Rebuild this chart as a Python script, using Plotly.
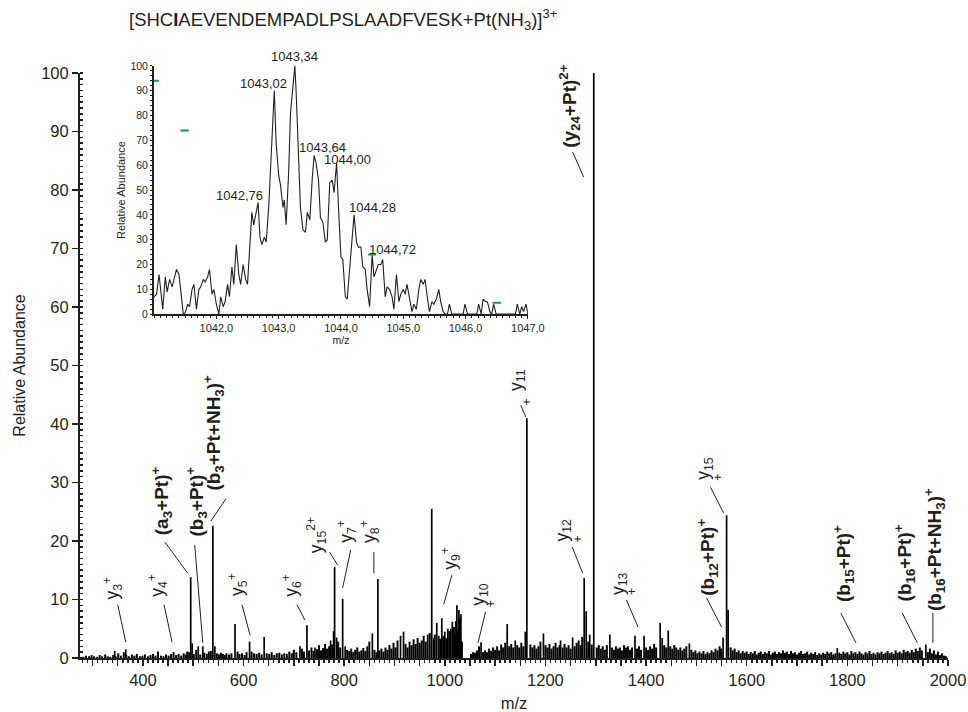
import plotly.graph_objects as go

# ---------------- data ----------------
peak_mz = [344, 366, 495, 498, 510, 519, 539, 543, 583, 612,
           641, 712, 726, 742, 773, 779, 781, 785, 797, 802,
           856, 867, 912, 918, 966, 974, 984, 988, 994, 1000,
           1006, 1012, 1015, 1024, 1028, 1032, 1072, 1124, 1140, 1160,
           1163, 1196, 1230, 1254, 1277, 1281, 1288, 1296, 1328, 1378,
           1396, 1428, 1432, 1444, 1486, 1553, 1560, 1563, 1780, 1956]
peak_int = [1.2, 1.5, 13.8, 2.5, 2.0, 2.0, 22.6, 2.0, 5.8, 2.8,
            3.6, 2.0, 5.6, 1.8, 3.0, 4.6, 15.6, 3.5, 10.1, 2.0,
            4.2, 13.5, 3.8, 4.5, 4.0, 25.5, 6.0, 3.8, 6.8, 4.5,
            5.0, 5.0, 6.2, 9.0, 8.2, 7.5, 2.7, 5.8, 3.0, 4.5,
            41.0, 4.2, 3.0, 3.5, 13.7, 8.0, 4.0, 100, 4.0, 3.8,
            3.8, 6.0, 3.4, 4.7, 2.5, 3.5, 24.4, 8.2, 1.7, 2.3]

noise_mz = [282, 287, 293, 298, 303, 309, 314, 319, 325, 330, 335, 341, 346, 351, 356, 362, 367, 372, 378, 383,
            388, 394, 399, 404, 410, 415, 420, 425, 430, 436, 441, 446, 451, 456, 461, 466, 471, 476,
            481, 485, 488, 492, 501, 506, 514, 522, 527, 531, 535, 547, 551, 555, 559, 563,
            566, 571, 576, 588, 592, 597, 602, 606, 616, 621, 626, 631, 636, 646, 651, 656, 661, 666, 671, 676, 681, 686, 691, 696,
            700, 705, 716, 720, 730, 735, 739, 746, 750, 754, 758, 762, 766, 770, 776, 788, 792, 806, 810, 814, 818, 822, 826, 830,
            834, 838, 842, 846, 850, 860, 864,
            870, 874, 878, 882, 886, 890, 894, 898, 902, 906, 922, 926, 930, 934, 938, 942, 946, 950, 954, 958, 962, 970,
            978, 980, 991, 997, 1003, 1009, 1018, 1020, 1022, 1026, 1030, 1034,
            1052, 1056, 1060, 1064, 1068, 1076, 1080, 1084, 1088, 1092, 1096, 1100, 1104, 1108, 1112, 1116, 1120, 1128,
            1132, 1136, 1144, 1148, 1152, 1156, 1170, 1174, 1178, 1182, 1186, 1190, 1200, 1204, 1208, 1212, 1216, 1220,
            1224, 1228, 1234, 1238, 1242, 1246, 1250, 1258, 1262, 1266, 1270, 1273, 1285, 1292,
            1302, 1306, 1310, 1314, 1318, 1322, 1332, 1336, 1340, 1344, 1348, 1352, 1356, 1360, 1364, 1368, 1372, 1382,
            1386, 1390, 1400, 1404, 1408, 1412, 1416, 1420, 1436, 1440, 1448, 1452, 1456, 1460, 1464, 1468, 1472, 1476,
            1480, 1490, 1494, 1498, 1502, 1506, 1510, 1514, 1518, 1522, 1526, 1530, 1534, 1538, 1542, 1546, 1549,
            1568, 1572, 1576, 1580, 1584, 1588, 1592, 1596, 1600, 1604, 1608, 1612, 1616, 1620, 1624, 1628, 1632, 1636,
            1640, 1644, 1648, 1652, 1656, 1660, 1664, 1668, 1672, 1676, 1680, 1684, 1688, 1692, 1696, 1700, 1704, 1708,
            1712, 1716, 1720, 1724, 1728, 1732, 1736, 1740, 1744, 1748, 1752, 1756, 1760, 1764, 1768, 1772, 1776, 1784,
            1788, 1792, 1796, 1800, 1804, 1808, 1812, 1816, 1820, 1824, 1828, 1832, 1836, 1840, 1844, 1848, 1852, 1856,
            1860, 1864, 1868, 1872, 1876, 1880, 1884, 1888, 1892, 1896, 1900, 1904, 1908, 1912, 1916, 1920, 1924, 1928,
            1932, 1936, 1940, 1944, 1948, 1960, 1964, 1968, 1972, 1976, 1980, 1984, 1988, 1992, 1996]
noise_int = [0.2, 0.4, 0.3, 0.5, 0.3, 0.2, 0.5, 0.3, 0.6, 0.3, 0.2, 0.5, 0.3, 0.8, 0.4, 1.0, 0.5, 0.3, 0.6, 0.4,
             0.7, 0.3, 0.4, 0.6, 0.3, 0.5, 0.7, 0.4, 1.1, 0.4, 0.3, 0.6, 0.4, 0.7, 1.0, 0.5, 0.7, 0.4,
             0.8, 0.6, 1.1, 1.0, 0.7, 1.4, 0.6, 0.9, 0.7, 1.1, 1.2, 0.8, 0.6, 0.9, 0.7, 0.5,
             0.8, 0.6, 0.8, 1.1, 0.7, 0.8, 0.5, 1.0, 1.1, 0.8, 0.7, 0.9, 0.6, 0.8, 0.7, 1.0, 0.5, 0.8, 0.9, 0.6, 0.8, 0.7, 1.1, 0.8,
             1.4, 1.0, 1.6, 1.1, 1.3, 1.8, 1.2, 1.5, 2.2, 1.3, 1.7, 2.4, 1.6, 2.0, 2.3, 2.8, 1.8, 1.4, 1.2, 1.6, 1.0, 1.4, 1.8, 1.1,
             1.3, 1.7, 1.2, 2.0, 2.8, 1.4, 1.0,
             1.3, 1.6, 1.1, 1.8, 1.4, 2.2, 1.6, 2.6, 1.8, 3.0, 2.4, 1.8, 2.8, 2.2, 3.2, 2.4, 3.4, 2.6, 3.0, 3.8, 2.8, 4.3,
             3.4, 4.0, 3.3, 3.8, 3.4, 4.6, 5.3, 3.8, 6.3, 4.8, 6.8, 2.8,
             0.7, 1.0, 0.9, 1.3, 2.0, 1.0, 1.3, 1.0, 1.6, 1.2, 1.8, 1.4, 2.0, 1.3, 2.3, 1.8, 2.6, 2.0,
             2.4, 1.8, 2.2, 1.8, 2.6, 2.0, 2.3, 1.8, 2.2, 1.6, 2.0, 2.8, 2.2, 1.8, 2.4, 1.6, 2.0, 2.6,
             1.8, 2.2, 1.8, 2.4, 1.8, 2.2, 1.6, 2.0, 2.6, 3.0, 2.2, 3.6, 2.8, 2.3,
             1.8, 2.2, 1.6, 2.0, 1.4, 2.2, 1.8, 1.4, 2.0, 1.6, 1.8, 1.3, 2.2, 1.8, 2.0, 1.4, 1.8, 1.6,
             2.0, 1.4, 1.8, 1.4, 2.0, 1.6, 2.4, 1.8, 2.2, 1.8, 2.0, 1.6, 2.2, 1.8, 1.4, 1.8, 1.3, 1.6,
             2.0, 1.4, 1.0, 1.3, 0.8, 1.1, 0.8, 1.2, 0.7, 1.0, 0.8, 1.3, 1.0, 1.6, 1.3, 2.0, 1.6,
             1.8, 1.3, 1.6, 1.0, 1.3, 0.8, 1.2, 0.9, 1.1, 0.7, 1.0, 0.8, 1.2, 0.6, 0.9, 1.1, 0.7, 1.0,
             0.8, 1.2, 0.6, 0.9, 1.1, 0.7, 1.0, 0.8, 1.3, 0.9, 1.1, 0.7, 1.2, 0.8, 1.0, 0.6, 0.9, 1.2,
             0.7, 0.8, 1.1, 0.6, 0.9, 0.7, 1.0, 0.5, 0.8, 0.6, 0.9, 0.7, 1.1, 0.8, 1.0, 0.6, 0.8, 0.9,
             0.7, 1.1, 0.8, 1.0, 0.6, 1.2, 0.8, 1.0, 0.7, 1.1, 0.8, 0.6, 1.0, 0.8, 1.2, 0.7, 0.9, 0.6,
             1.0, 0.8, 1.1, 0.7, 0.9, 1.2, 0.8, 1.0, 0.7, 1.3, 0.9, 1.1, 0.8, 1.4, 1.0, 1.2, 0.9, 1.4,
             1.0, 1.6, 1.2, 1.8, 1.3, 1.0, 1.6, 0.8, 1.3, 0.6, 1.1, 0.5, 0.8, 0.4, 0.3]

inset_mz = [1041.00, 1041.04, 1041.08, 1041.11, 1041.14, 1041.18, 1041.21, 1041.25, 1041.29, 1041.32,
            1041.36, 1041.40, 1041.43, 1041.47, 1041.50, 1041.54, 1041.57, 1041.61, 1041.64, 1041.68,
            1041.72, 1041.75, 1041.79, 1041.82, 1041.86, 1041.89, 1041.93, 1041.96, 1042.00, 1042.04,
            1042.07, 1042.11, 1042.14, 1042.18, 1042.21, 1042.25, 1042.28, 1042.32, 1042.36, 1042.39,
            1042.43, 1042.47, 1042.50, 1042.54, 1042.57, 1042.60, 1042.64, 1042.67, 1042.70, 1042.73,
            1042.77, 1042.80, 1042.84, 1042.87, 1042.91, 1042.93, 1042.96, 1043.00, 1043.03, 1043.07,
            1043.09, 1043.12, 1043.16, 1043.19, 1043.23, 1043.26, 1043.28, 1043.32, 1043.35, 1043.39,
            1043.43, 1043.46, 1043.50, 1043.54, 1043.57, 1043.60, 1043.64, 1043.67, 1043.71, 1043.75,
            1043.78, 1043.82, 1043.86, 1043.89, 1043.93, 1043.96, 1044.00, 1044.03, 1044.07, 1044.10,
            1044.14, 1044.18, 1044.21, 1044.25, 1044.28, 1044.32, 1044.35, 1044.39, 1044.42, 1044.46,
            1044.50, 1044.53, 1044.57, 1044.60, 1044.64, 1044.67, 1044.71, 1044.74, 1044.78, 1044.82,
            1044.85, 1044.89, 1044.93, 1044.96, 1045.00, 1045.03, 1045.06, 1045.10, 1045.14, 1045.17,
            1045.21, 1045.25, 1045.28, 1045.32, 1045.35, 1045.39, 1045.42, 1045.46, 1045.49, 1045.53,
            1045.57, 1045.60, 1045.64, 1045.67, 1045.71, 1045.74, 1045.78, 1045.96, 1045.99, 1046.03,
            1046.18, 1046.21, 1046.25, 1046.28, 1046.32, 1046.35, 1046.39, 1046.42, 1046.45, 1046.49,
            1046.80, 1046.83, 1046.87, 1046.90, 1046.93, 1046.97, 1047.00]
inset_int = [7, 8, 16, 10, 2, 15, 9, 14, 11, 14,
             18, 16, 8, 0, 0.5, 4, 3, 10, 12, 2,
             10, 11, 14, 13, 15, 18, 8, 10, 4, 0,
             7, 3, 5, 12, 7, 19, 12, 28, 16, 12,
             20, 14, 12, 28, 41, 36, 42, 45, 31, 28,
             31, 29, 43, 58, 80, 90, 69, 56, 52, 43,
             46, 36, 57, 81, 92, 100, 90, 67, 43, 34,
             33, 41, 38, 55, 64, 61, 54, 39, 37, 29,
             30, 53, 54, 49, 61, 43, 23, 22, 7, 6,
             19, 31, 40, 29, 27, 27, 19, 18, 10, 3,
             24, 15, 18, 20, 20, 22, 7, 11, 10, 7,
             2, 16, 5, 8, 10, 8, 12, 6, 1, 4,
             2, 10, 14, 12, 14, 6, 1, 5, 4, 6,
             10, 5, 1, 0, 0, 4, 0, 0, 4, 0,
             0, 4, 0, 6, 5, 5, 1, 0, 4, 0,
             0, 4, 0, 3, 1, 4, 0]

inset_label_text = ["1043,34", "1043,02", "1043,64", "1044,00", "1042,76", "1044,28", "1044,72"]
inset_label_mz = [1043.26, 1042.76, 1043.71, 1044.11, 1042.37, 1044.50, 1044.82]
inset_label_y = [100, 93, 67, 62.5, 48, 43, 26]
inset_label_anchor = ["bottom", "middle", "middle", "middle", "middle", "middle", "middle"]

# small green artefacts in the inset
artefact_mz = [1041.01, 1041.49, 1044.50, 1046.50]
artefact_int = [94, 74, 24, 4.6]

x_tick_vals = [v for v in range(300, 2001, 50)]
x_tick_text = [str(v) if v % 200 == 0 else "" for v in x_tick_vals]
y_tick_vals = [0, 10, 20, 30, 40, 50, 60, 70, 80, 90, 100]
inset_x_ticks = [1042, 1043, 1044, 1045, 1046, 1047]
inset_x_text = ["1042,0", "1043,0", "1044,0", "1045,0", "1046,0", "1047,0"]

# ion labels: text, m/z, y, font size
ion_labels = [
    ("y<sub>3</sub><sup>+</sup>", 340, 12.0, 17.5),
    ("y<sub>4</sub><sup>+</sup>", 430, 12.5, 17.5),
    ("<b>(a<sub>3</sub>+Pt)<sup>+</sup></b>", 436, 26.8, 19),
    ("<b>(b<sub>3</sub>+Pt)<sup>+</sup></b>", 507, 26.7, 19),
    ("<b>(b<sub>3</sub>+Pt+NH<sub>3</sub>)<sup>+</sup></b>", 541, 38.5, 19),
    ("y<sub>5</sub><sup>+</sup>", 589, 12.5, 17.5),
    ("y<sub>6</sub><sup>+</sup>", 696, 12.5, 17.5),
    ("y<sub>15</sub><sup>2+</sup>", 744, 21.0, 17.5),
    ("y<sub>7</sub><sup>+</sup>", 803, 21.7, 17.5),
    ("y<sub>8</sub><sup>+</sup>", 849, 21.7, 17.5),
    ("y<sub>9</sub><sup>+</sup>", 1012, 17.1, 17.5),
    ("y<sub>10</sub>", 1070, 10.8, 17.5),
    ("+", 1092, 9.2, 12),
    ("y<sub>11</sub>", 1143, 47.5, 17.5),
    ("+", 1163, 43.8, 12),
    ("y<sub>12</sub>", 1235, 21.8, 17.5),
    ("+", 1265, 20.3, 12),
    ("y<sub>13</sub>", 1346, 12.8, 17.5),
    ("+", 1372, 11.3, 12),
    ("<b>(b<sub>12</sub>+Pt)<sup>+</sup></b>", 1523, 17.3, 19),
    ("y<sub>15</sub>", 1517, 32.5, 17.5),
    ("+", 1543, 30.8, 12),
    ("<b>(b<sub>15</sub>+Pt)<sup>+</sup></b>", 1791, 16.2, 19),
    ("<b>(b<sub>16</sub>+Pt)<sup>+</sup></b>", 1913, 16.2, 19),
    ("<b>(b<sub>16</sub>+Pt+NH<sub>3</sub>)<sup>+</sup></b>", 1972, 18.6, 19),
    ("<b>(y<sub>24</sub>+Pt)<sup>2+</sup></b>", 1249, 94.4, 19),
]

# leader lines: m/z0, y0, m/z1, y1
leaders = [
    (350, 9.1, 366, 2.7), (442, 9.1, 458, 2.7), (444, 19.8, 489, 14.5),
    (503, 19.3, 519, 2.6), (565, 27.2, 535, 23.4), (597, 9.1, 613, 3.9),
    (706, 9.1, 722, 6.5), (771, 18.1, 787, 15.9), (813, 18.5, 797, 12.0),
    (859, 18.1, 859, 14.5), (1014, 14.2, 998, 9.2), (1081, 7.9, 1066, 2.6),
    (1151, 43.2, 1161, 41.2), (1253, 19.0, 1274, 14.5), (1361, 9.9, 1384, 5.3),
    (1520, 10.3, 1550, 5.3), (1528, 29.2, 1554, 24.8), (1787, 7.7, 1817, 2.6),
    (1909, 7.7, 1939, 2.6), (1970, 7.7, 1970, 2.6), (1276, 82.2, 1254, 86.5),
]

INK = "#231f20"
FONT = "Liberation Sans, Arial, Helvetica, sans-serif"


def sticks(mz, inten):
    xs, ys = [], []
    for m, v in zip(mz, inten):
        xs += [m, m, None]
        ys += [0, v, None]
    return xs, ys


fig = go.Figure()
nx, ny = sticks(noise_mz, noise_int)
fig.add_trace(go.Scatter(x=nx, y=ny, mode="lines", line=dict(color="black", width=2),
                         hoverinfo="skip", showlegend=False))
px_, py_ = sticks(peak_mz, peak_int)
fig.add_trace(go.Scatter(x=px_, y=py_, mode="lines", line=dict(color="black", width=1.7),
                         hoverinfo="skip", showlegend=False))

# inset
fig.add_trace(go.Scatter(x=inset_mz, y=inset_int, mode="lines", line=dict(color=INK, width=1.1),
                         xaxis="x2", yaxis="y2", hoverinfo="skip", showlegend=False))
fig.add_trace(go.Scatter(x=artefact_mz, y=artefact_int, mode="markers",
                         marker=dict(symbol="line-ew", size=6, line=dict(color="#00a651", width=2)),
                         xaxis="x2", yaxis="y2", hoverinfo="skip", showlegend=False))

annotations = []
for t, x, y, s in ion_labels:
    annotations.append(dict(text=t, x=x, y=y, xref="x", yref="y", showarrow=False,
                            textangle=-90, font=dict(size=s, color=INK, family=FONT),
                            xanchor="center", yanchor="middle"))
for t, x, y, a in zip(inset_label_text, inset_label_mz, inset_label_y, inset_label_anchor):
    annotations.append(dict(text=t, x=x, y=y, xref="x2", yref="y2", showarrow=False,
                            font=dict(size=13, color=INK, family=FONT),
                            xanchor="center", yanchor=a))
annotations.append(dict(text="[SHC<b>I</b>AEVENDEMPADLPSLAADFVESK+Pt(NH<sub>3</sub>)]<sup>3+</sup>",
                        x=0.303, y=1.067, xref="paper", yref="paper", showarrow=False,
                        font=dict(size=18.5, color=INK, family=FONT), xanchor="center", yanchor="middle"))

shapes = [dict(type="line", xref="x", yref="y", x0=a, y0=b, x1=c, y1=d,
               line=dict(color=INK, width=1)) for a, b, c, d in leaders]

fig.update_layout(
    width=968, height=712,
    margin=dict(l=80, r=20, t=60, b=54, autoexpand=False),
    paper_bgcolor="white", plot_bgcolor="white",
    font=dict(family=FONT, color=INK),
    hovermode=False,
    annotations=annotations,
    shapes=shapes,
    xaxis=dict(domain=[0, 1], range=[275, 2000], tickmode="array", tickvals=x_tick_vals,
               ticktext=x_tick_text, ticks="outside", ticklen=6, tickwidth=1.5, tickcolor=INK,
               minor=dict(tickmode="linear", tick0=0, dtick=10, ticks="outside", ticklen=3, tickcolor=INK),
               showline=True, linewidth=2, linecolor=INK, showgrid=False, zeroline=False,
               automargin=False, tickfont=dict(size=16.5, color=INK),
               title=dict(text="m/z", font=dict(size=16.5, color=INK), standoff=12)),
    yaxis=dict(domain=[0, 0.9783], range=[0, 100], tickmode="array", tickvals=y_tick_vals,
               ticks="outside", ticklen=6, tickwidth=1.5, tickcolor=INK,
               minor=dict(tickmode="linear", tick0=0, dtick=1, ticks="inside", ticklen=3, tickcolor=INK),
               showline=True, linewidth=2, linecolor=INK, showgrid=False, zeroline=False,
               automargin=False, tickfont=dict(size=16.5, color=INK),
               title=dict(text="Relative Abundance", font=dict(size=16, color=INK), standoff=12)),
    xaxis2=dict(domain=[0.0853, 0.516], anchor="y2", range=[1041, 1047], tickmode="array",
                tickvals=inset_x_ticks, ticktext=inset_x_text, ticks="outside", ticklen=3, tickcolor=INK,
                minor=dict(tickmode="linear", tick0=1041, dtick=0.1, ticks="outside", ticklen=2, tickcolor=INK),
                showline=True, linewidth=2, linecolor=INK, showgrid=False, zeroline=False,
                automargin=False, tickfont=dict(size=11, color=INK),
                title=dict(text="m/z", font=dict(size=10.5, color=INK), standoff=2)),
    yaxis2=dict(domain=[0.575, 0.990], anchor="x2", range=[0, 100], tickmode="array",
                tickvals=y_tick_vals, ticks="outside", ticklen=2, tickcolor=INK,
                minor=dict(tickmode="linear", tick0=0, dtick=2, ticks="outside", ticklen=2, tickcolor=INK),
                showline=True, linewidth=2, linecolor=INK, showgrid=False, zeroline=False,
                automargin=False, tickfont=dict(size=10.5, color=INK),
                title=dict(text="Relative Abundance", font=dict(size=11, color=INK), standoff=3)),
)

fig.write_html("out.html", config={"displayModeBar": False, "staticPlot": True},
               post_script="document.body.style.margin='0';document.body.style.padding='0';")
